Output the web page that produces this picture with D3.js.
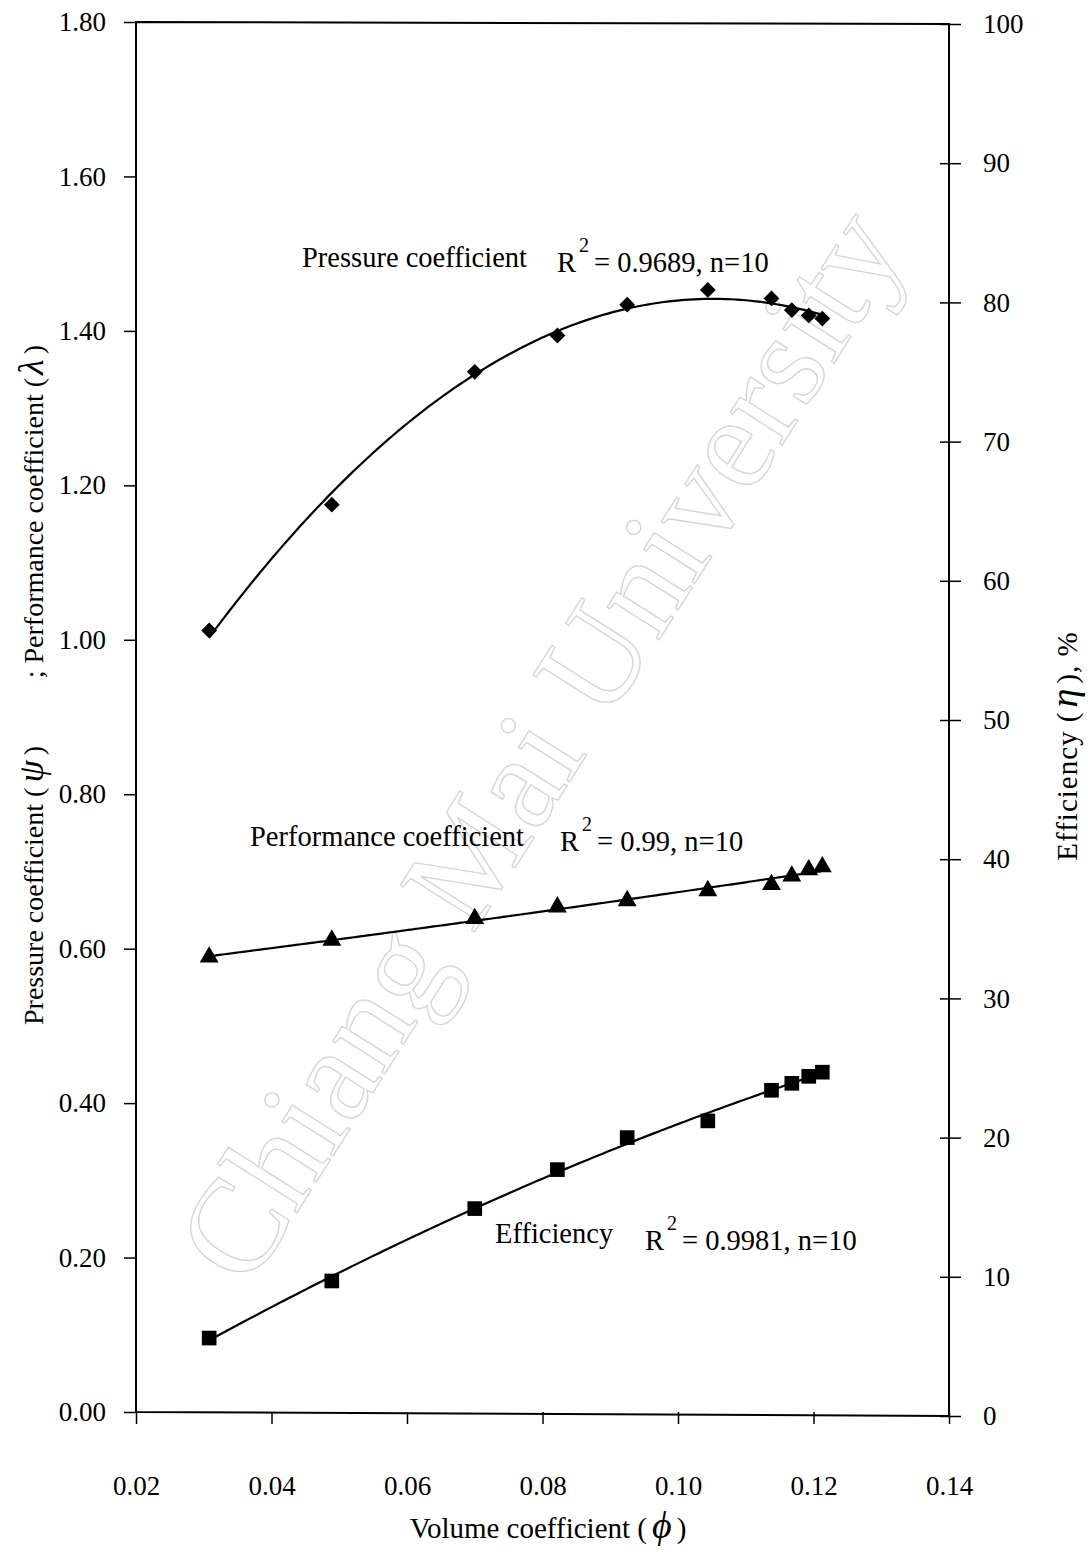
<!DOCTYPE html>
<html>
<head>
<meta charset="utf-8">
<script src="https://cdn.jsdelivr.net/npm/d3@7"></script>
<style>
  body { margin: 0; background: #fff; }
  svg { display: block; }
  text { font-family: "Liberation Serif", "Times New Roman", Times, serif; fill: #000; }
</style>
</head>
<body>
<svg id="chart" width="1088" height="1552"></svg>
<script>
// Volume coefficient (phi) for the ten test points
const phi = [0.0308, 0.0489, 0.0700, 0.0822, 0.0925, 0.1044, 0.1138, 0.1168, 0.1193, 0.1213];
// Pressure coefficient (psi), left axis
const pressure = [1.012, 1.175, 1.347, 1.394, 1.434, 1.453, 1.442, 1.427, 1.420, 1.416];
// Performance coefficient (lambda), left axis
const performance = [0.589, 0.611, 0.639, 0.654, 0.662, 0.675, 0.683, 0.694, 0.702, 0.706];
// Efficiency (eta) in %, right axis
const efficiency = [5.6, 9.7, 14.9, 17.7, 20.0, 21.2, 23.4, 23.9, 24.4, 24.7];

const xTicks = [0.02, 0.04, 0.06, 0.08, 0.10, 0.12, 0.14];
const leftTicks = [0.00, 0.20, 0.40, 0.60, 0.80, 1.00, 1.20, 1.40, 1.60, 1.80];
const rightTicks = [0, 10, 20, 30, 40, 50, 60, 70, 80, 90, 100];

// Trend-line annotations
const fitLabels = [
  { name: "Pressure coefficient", r2: "0.9689", n: 10 },
  { name: "Performance coefficient", r2: "0.99", n: 10 },
  { name: "Efficiency", r2: "0.9981", n: 10 }
];

const svg = d3.select("#chart");

const x = d3.scaleLinear().domain([0.02, 0.14]).range([136, 949]);
const yL = d3.scaleLinear().domain([0, 1.8]).range([1412, 22]);
const yR = d3.scaleLinear().domain([0, 100]).range([1416, 24]);

// Least-squares polynomial fit (normal equations, Gaussian elimination)
function polyfit(xs, ys, deg) {
  const n = deg + 1;
  const A = Array.from({ length: n }, () => new Array(n + 1).fill(0));
  xs.forEach((xv, k) => {
    for (let i = 0; i < n; i++) {
      for (let j = 0; j < n; j++) A[i][j] += Math.pow(xv, i + j);
      A[i][n] += ys[k] * Math.pow(xv, i);
    }
  });
  for (let c = 0; c < n; c++) {
    let p = c;
    for (let r = c + 1; r < n; r++) if (Math.abs(A[r][c]) > Math.abs(A[p][c])) p = r;
    [A[c], A[p]] = [A[p], A[c]];
    for (let r = 0; r < n; r++) {
      if (r === c) continue;
      const f = A[r][c] / A[c][c];
      for (let k = c; k <= n; k++) A[r][k] -= f * A[c][k];
    }
  }
  const coef = A.map((row, i) => row[n] / row[i]);
  return xv => coef.reduce((s, c, i) => s + c * Math.pow(xv, i), 0);
}

// Faint outlined watermark across the plot
svg.append("text")
  .attr("transform", "translate(552,752) rotate(-57.7)")
  .attr("text-anchor", "middle")
  .attr("dominant-baseline", "middle")
  .style("font-size", "134px")
  .style("fill", "none")
  .style("stroke", "#d6d6d6")
  .style("stroke-width", 1.4)
  .text("Chiang Mai University");

// Plot frame (axes lines)
const frame = d3.path();
frame.moveTo(x(0.02), yL(1.8));
frame.lineTo(x(0.14), yR(100));
frame.lineTo(x(0.14), yR(0));
frame.lineTo(x(0.02), yL(0));
frame.closePath();
svg.append("path").attr("d", frame.toString())
  .attr("fill", "none").attr("stroke", "#000").attr("stroke-width", 2);

// Left axis
const gL = svg.append("g").attr("transform", `translate(${x(0.02)},0)`)
  .call(d3.axisLeft(yL).tickValues(leftTicks).tickFormat(d3.format(".2f")).tickSize(12).tickPadding(18));
// Right axis
const gR = svg.append("g").attr("transform", `translate(${x(0.14)},0)`)
  .call(d3.axisRight(yR).tickValues(rightTicks).tickFormat(d3.format("d")).tickSize(12).tickPadding(22));
gR.selectAll(".tick line").attr("x1", -9);
// Bottom axis
const gB = svg.append("g").attr("transform", `translate(0,${yL(0)})`)
  .call(d3.axisBottom(x).tickValues(xTicks).tickFormat(d3.format(".2f")).tickSize(12).tickPadding(52));

[gL, gR, gB].forEach(g => {
  g.select(".domain").remove();
  g.selectAll(".tick line").attr("stroke", "#000").attr("stroke-width", 1.5);
  g.selectAll(".tick text")
    .style("font-family", "'Liberation Serif', 'Times New Roman', serif")
    .style("font-size", "27px").attr("fill", "#000");
});
gB.selectAll(".tick text").attr("dy", "0.71em");

// Trend lines
const xs = d3.range(phi[0], phi[phi.length - 1] + 1e-9, (phi[phi.length - 1] - phi[0]) / 120);
function trend(vals, yScale) {
  const f = polyfit(phi, vals, 2);
  svg.append("path")
    .datum(xs)
    .attr("fill", "none").attr("stroke", "#000").attr("stroke-width", 2.2)
    .attr("d", d3.line().x(d => x(d)).y(d => yScale(f(d))).curve(d3.curveBasis));
}
trend(pressure, yL);
trend(performance, yL);
trend(efficiency, yR);

// Markers
function markers(vals, yScale, type, size, rot) {
  svg.append("g").selectAll("path").data(vals).join("path")
    .attr("transform", (d, i) => `translate(${x(phi[i])},${yScale(d)}) rotate(${rot})`)
    .attr("d", d3.symbol().type(type).size(size))
    .attr("fill", "#000");
}
markers(pressure, yL, d3.symbolSquare, 125, 45);
markers(performance, yL, d3.symbolTriangle, 155, 0);
markers(efficiency, yR, d3.symbolSquare, 215, 0);

// Fit annotations
const annPos = [
  { nx: 302, ny: 267, rx: 557, ry: 272 },
  { nx: 250, ny: 846, rx: 560, ry: 851 },
  { nx: 495, ny: 1243, rx: 645, ry: 1250 }
];
fitLabels.forEach((a, i) => {
  const p = annPos[i];
  svg.append("text").attr("x", p.nx).attr("y", p.ny)
    .style("font-size", "28.5px").text(a.name);
  const t = svg.append("text").attr("x", p.rx).attr("y", p.ry).style("font-size", "28.5px");
  t.append("tspan").text("R");
  t.append("tspan").attr("dy", -20).attr("dx", 3).style("font-size", "20px").text("2");
  t.append("tspan").attr("dy", 20).attr("dx", 5).text(`= ${a.r2}, n=${a.n}`);
});

// X axis title
const xt = svg.append("text").attr("x", 548).attr("y", 1538)
  .attr("text-anchor", "middle").style("font-size", "29px");
xt.append("tspan").text("Volume coefficient (");
xt.append("tspan").attr("dx", 5).style("font-style", "italic").style("font-size", "38px").text("ϕ");
xt.append("tspan").attr("dx", 5).text(")");

// Left axis title (two quantities share the axis)
const lt1 = svg.append("text").attr("transform", "translate(43,1025) rotate(-90)")
  .attr("text-anchor", "start").style("font-size", "28px");
lt1.append("tspan").text("Pressure coefficient (");
lt1.append("tspan").attr("dx", 5).style("font-style", "italic").style("font-size", "36px").text("ψ");
lt1.append("tspan").attr("dx", 5).text(")");
const lt2 = svg.append("text").attr("transform", "translate(43,345) rotate(-90)")
  .attr("text-anchor", "end").style("font-size", "28px");
lt2.append("tspan").text("; Performance coefficient (");
lt2.append("tspan").attr("dx", 3).style("font-style", "italic").style("font-size", "36px").text("λ");
lt2.append("tspan").attr("dx", 5).text(")");

// Right axis title
const rt = svg.append("text").attr("transform", "translate(1077,746) rotate(-90)")
  .attr("text-anchor", "middle").style("font-size", "29px").style("letter-spacing", "1px");
rt.append("tspan").text("Efficiency (");
rt.append("tspan").attr("dx", 4).style("font-style", "italic").style("font-size", "38px").text("η");
rt.append("tspan").attr("dx", 4).text("), %");
</script>
</body>
</html>
